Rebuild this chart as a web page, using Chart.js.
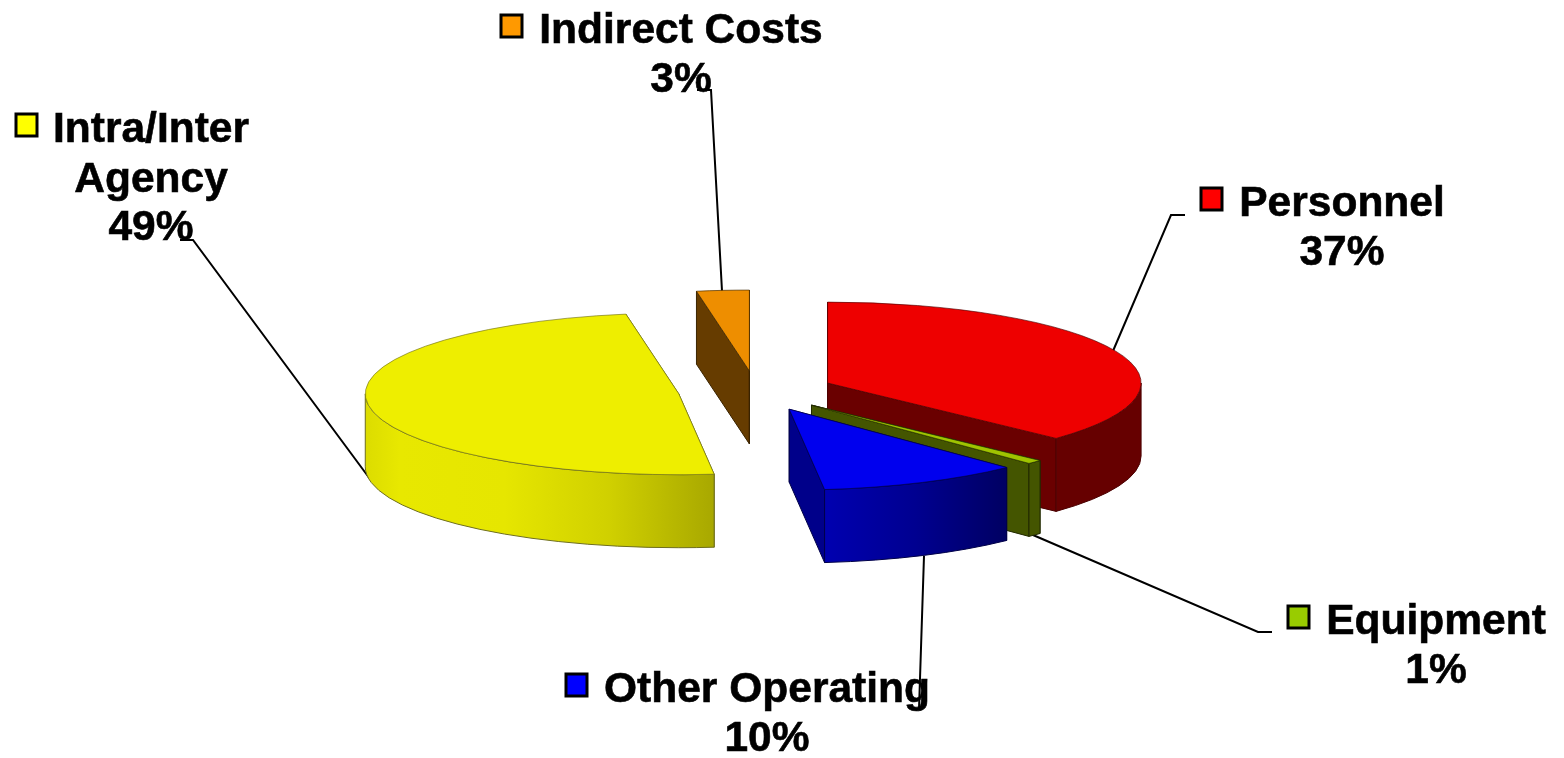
<!DOCTYPE html>
<html>
<head>
<meta charset="utf-8">
<style>
html,body{margin:0;padding:0;background:#fff;overflow:hidden}
canvas{display:block}
</style>
<script src="https://cdn.jsdelivr.net/npm/chart.js@4"></script>
</head>
<body>
<canvas id="c" width="1564" height="758"></canvas>
<script>
const categories = ["Personnel", "Equipment", "Other Operating", "Intra/Inter Agency", "Indirect Costs"];
const values = [37.0, 0.8, 10.4, 49.1, 2.7];
const topColors = ["#ee0000", "#a0c400", "#0000ee", "#eeee00", "#ee8e00"];
const swatchColors = ["#ff0000", "#99cc00", "#0000ff", "#ffff00", "#ff9900"];
const edgeColors = ["#4a0000", "#222a00", "#000048", "#6e6e1e", "#3a2400"];
const faceColors = ["#6a0000", "#445500", "#00008a", "#b0b000", "#663c00"];
const wallStops = [
  [[0, "#660000"], [1, "#660000"]],
  [[0, "#445500"], [1, "#445500"]],
  [[0, "#0000b0"], [0.5, "#000090"], [1, "#000062"]],
  [[0, "#dcdc00"], [0.1, "#e8e800"], [0.4, "#e6e600"], [0.7, "#d0d000"], [1, "#a8a800"]],
  [[0, "#663c00"], [1, "#663c00"]]
];

// view of the 3D pie
const SQUASH = 0.258, DEPTH = 73, EXPLODE = 78, RADIUS = 313.5;

// annotation layout: text centre, baselines, swatch corner, leader path
const labelLayout = [
  {lines: ["Personnel", "37%"], cx: 1342, base: [216, 265], sw: [1200, 187],
   leader: [[1185, 215], [1171, 215], [1113, 351]]},
  {lines: ["Equipment", "1%"], cx: 1436, base: [634, 683], sw: [1287, 605],
   leader: [[1272, 632], [1258, 632], [1033, 535]]},
  {lines: ["Other Operating", "10%"], cx: 767, base: [702, 751], sw: [565, 673],
   leader: [[911, 709], [919, 709], [924, 556]]},
  {lines: ["Intra/Inter", "Agency", "49%"], cx: 151, base: [142, 192, 240], sw: [15, 113],
   leader: [[180, 240], [193, 240], [370, 479]]},
  {lines: ["Indirect Costs", "3%"], cx: 681, base: [43, 92], sw: [500, 14],
   leader: [[697, 90], [711, 90], [722, 291]]}
];

const pie3d = {
  id: "pie3d",
  beforeDatasetsDraw(chart) {
    const ctx = chart.ctx;
    // leaders sit under the slices
    ctx.save();
    ctx.strokeStyle = "#000";
    ctx.lineWidth = 2;
    labelLayout.forEach(l => {
      ctx.beginPath();
      l.leader.forEach((p, i) => i ? ctx.lineTo(p[0], p[1]) : ctx.moveTo(p[0], p[1]));
      ctx.stroke();
    });
    ctx.restore();

    const arcs = chart.getDatasetMeta(0).data;
    const mid = a => (a.startAngle + a.endAngle) / 2;
    const order = arcs.map((a, i) => i).sort((p, q) => Math.sin(mid(arcs[p])) - Math.sin(mid(arcs[q])));

    order.forEach(i => {
      const arc = arcs[i];
      const m = mid(arc);
      const dx = Math.cos(m) * EXPLODE, dy = Math.sin(m) * EXPLODE * SQUASH;
      const X = arc.x + dx, Y = arc.y + dy, R = arc.outerRadius;
      const P = a => [X + R * Math.cos(a), Y + R * SQUASH * Math.sin(a)];

      ctx.save();
      ctx.lineWidth = 1;
      ctx.lineJoin = "round";
      ctx.strokeStyle = edgeColors[i];

      // cut faces
      [arc.startAngle, arc.endAngle].forEach(a => {
        const p = P(a);
        ctx.beginPath();
        ctx.moveTo(X, Y);
        ctx.lineTo(p[0], p[1]);
        ctx.lineTo(p[0], p[1] + DEPTH);
        ctx.lineTo(X, Y + DEPTH);
        ctx.closePath();
        ctx.fillStyle = faceColors[i];
        ctx.fill();
        ctx.stroke();
      });

      // outer wall: only the part that faces the viewer
      const TAU = Math.PI * 2;
      let s = arc.startAngle, e = arc.endAngle;
      const ranges = [[0, Math.PI], [TAU, TAU + Math.PI], [-TAU, -Math.PI]];
      ranges.forEach(r => {
        const a0 = Math.max(s, r[0]), a1 = Math.min(e, r[1]);
        if (a1 <= a0) return;
        const x0 = P(a0)[0], x1 = P(a1)[0];
        const g = ctx.createLinearGradient(Math.min(x0, x1), 0, Math.max(x0, x1), 0);
        wallStops[i].forEach(st => g.addColorStop(st[0], st[1]));
        ctx.beginPath();
        ctx.ellipse(X, Y, R, R * SQUASH, 0, a0, a1, false);
        ctx.lineTo(P(a1)[0], P(a1)[1] + DEPTH);
        ctx.ellipse(X, Y + DEPTH, R, R * SQUASH, 0, a1, a0, true);
        ctx.closePath();
        ctx.fillStyle = g;
        ctx.fill();
        ctx.stroke();
      });
      ctx.restore();

      // top face: the library's own arc element, exploded and tilted
      ctx.save();
      ctx.translate(arc.x + dx, arc.y + dy);
      ctx.scale(1, SQUASH);
      ctx.translate(-arc.x, -arc.y);
      arc.draw(ctx);
      ctx.restore();
    });
    return false;
  },
  afterDraw(chart) {
    const ctx = chart.ctx;
    ctx.save();
    ctx.font = 'bold 42.5px "Liberation Sans", Arial, sans-serif';
    ctx.textAlign = "center";
    ctx.textBaseline = "alphabetic";
    labelLayout.forEach((l, i) => {
      ctx.fillStyle = swatchColors[i];
      ctx.strokeStyle = "#000";
      ctx.lineWidth = 3;
      ctx.fillRect(l.sw[0] + 1, l.sw[1] + 1, 21, 22);
      ctx.strokeRect(l.sw[0] + 1, l.sw[1] + 1, 21, 22);
      ctx.fillStyle = "#000";
      ctx.lineWidth = 0.6;
      l.lines.forEach((t, j) => {
        ctx.fillText(t, l.cx, l.base[j]);
        ctx.strokeText(t, l.cx, l.base[j]);
      });
    });
    ctx.restore();
  }
};

new Chart(document.getElementById("c"), {
  type: "pie",
  data: {
    labels: categories,
    datasets: [{
      data: values,
      backgroundColor: topColors,
      borderColor: edgeColors,
      borderWidth: 1
    }]
  },
  options: {
    responsive: false,
    animation: false,
    radius: RADIUS,
    layout: {padding: {top: 24, right: 52, left: 0, bottom: 0}},
    plugins: {legend: {display: false}, tooltip: {enabled: false}},
    events: []
  },
  plugins: [pie3d]
});
</script>
</body>
</html>
